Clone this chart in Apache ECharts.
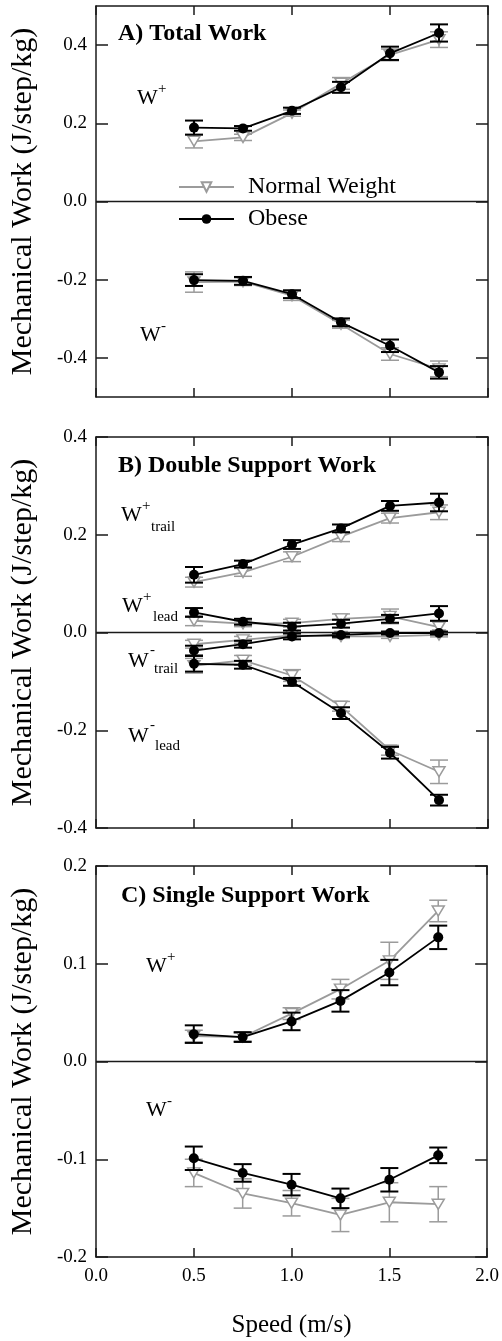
<!DOCTYPE html>
<html>
<head>
<meta charset="utf-8">
<script src="https://cdn.jsdelivr.net/npm/echarts@6/dist/echarts.min.js"></script>
<style>html,body{margin:0;padding:0;background:#fff}#c{width:502px;height:1341px}</style>
</head>
<body>
<div id="c"></div>
<script>
// ---------- data ----------
const speeds = [0.5, 0.75, 1.0, 1.25, 1.5, 1.75];
const xTickLabels = ['0.0', '0.5', '1.0', '1.5', '2.0'];

// A) Total work
const A_pos_normal = [0.154, 0.164, 0.226, 0.302, 0.375, 0.414];
const A_pos_normal_err = [0.017, 0.008, 0.008, 0.015, 0.015, 0.020];
const A_pos_obese = [0.189, 0.187, 0.232, 0.292, 0.379, 0.431];
const A_pos_obese_err = [0.018, 0.006, 0.008, 0.014, 0.017, 0.022];
const A_neg_normal = [-0.206, -0.205, -0.241, -0.314, -0.390, -0.428];
const A_neg_normal_err = [0.026, 0.010, 0.012, 0.010, 0.016, 0.020];
const A_neg_obese = [-0.201, -0.203, -0.237, -0.309, -0.369, -0.437];
const A_neg_obese_err = [0.015, 0.010, 0.010, 0.010, 0.016, 0.016];

// B) Double support work
const B_postrail_normal = [0.103, 0.123, 0.155, 0.196, 0.234, 0.246];
const B_postrail_normal_err = [0.010, 0.008, 0.010, 0.010, 0.010, 0.015];
const B_postrail_obese = [0.118, 0.140, 0.180, 0.213, 0.259, 0.266];
const B_postrail_obese_err = [0.016, 0.007, 0.009, 0.008, 0.010, 0.018];
const B_poslead_normal = [0.024, 0.018, 0.019, 0.028, 0.033, 0.011];
const B_poslead_normal_err = [0.010, 0.006, 0.008, 0.010, 0.015, 0.012];
const B_poslead_obese = [0.041, 0.022, 0.012, 0.018, 0.028, 0.039];
const B_poslead_obese_err = [0.009, 0.006, 0.008, 0.008, 0.008, 0.015];
const B_negtrail_normal = [-0.024, -0.015, -0.006, -0.008, -0.008, -0.005];
const B_negtrail_normal_err = [0.008, 0.007, 0.004, 0.004, 0.004, 0.004];
const B_negtrail_obese = [-0.037, -0.024, -0.008, -0.005, -0.001, -0.001];
const B_negtrail_obese_err = [0.010, 0.007, 0.006, 0.004, 0.003, 0.003];
const B_neglead_normal = [-0.068, -0.057, -0.088, -0.151, -0.241, -0.285];
const B_neglead_normal_err = [0.015, 0.010, 0.012, 0.010, 0.010, 0.024];
const B_neglead_obese = [-0.064, -0.066, -0.101, -0.165, -0.246, -0.343];
const B_neglead_obese_err = [0.016, 0.008, 0.008, 0.012, 0.012, 0.011];

// C) Single support work
const C_pos_normal = [0.026, 0.025, 0.049, 0.074, 0.103, 0.154];
const C_pos_normal_err = [0.006, 0.004, 0.006, 0.010, 0.019, 0.011];
const C_pos_obese = [0.028, 0.025, 0.041, 0.062, 0.091, 0.127];
const C_pos_obese_err = [0.009, 0.005, 0.009, 0.011, 0.013, 0.012];
const C_neg_normal = [-0.114, -0.135, -0.145, -0.157, -0.144, -0.146];
const C_neg_normal_err = [0.014, 0.015, 0.013, 0.017, 0.020, 0.018];
const C_neg_obese = [-0.099, -0.114, -0.126, -0.140, -0.121, -0.096];
const C_neg_obese_err = [0.012, 0.009, 0.011, 0.010, 0.012, 0.008];

const yTicksA = [-0.4, -0.2, 0, 0.2, 0.4];

// ---------- styling ----------
const FONT = 'Liberation Serif, Times New Roman, serif';
const GRAY = '#9b9b9b';
const BLACK = '#000000';
const AX = '#1a1a1a';

const grids = [
  {left: 96, top: 6, width: 392, height: 391},
  {left: 96, top: 437, width: 392, height: 391},
  {left: 96, top: 866, width: 392, height: 391}
];
const yRanges = [
  {min: -0.5, max: 0.5, custom: yTicksA},
  {min: -0.4, max: 0.4, interval: 0.2},
  {min: -0.2, max: 0.2, interval: 0.1}
];

const xAxes = [], yAxes = [];
grids.forEach((g, i) => {
  const isLast = i === grids.length - 1;
  const baseX = {
    gridIndex: i, type: 'value', min: 0, max: 2, interval: 0.5,
    axisLine: {show: true, onZero: false, lineStyle: {color: AX, width: 1.5}},
    axisTick: {show: true, inside: true, length: 9, lineStyle: {color: AX, width: 1.5}},
    splitLine: {show: false}
  };
  xAxes.push(Object.assign({}, baseX, {
    position: 'bottom',
    axisLabel: {show: isLast, margin: 10, fontFamily: FONT, fontSize: 19, color: '#000',
      formatter: v => xTickLabels[Math.round(v / 0.5)]},
    name: isLast ? 'Speed (m/s)' : '', nameLocation: 'middle', nameGap: 56,
    nameTextStyle: {fontFamily: FONT, fontSize: 25, color: '#000'}
  }));
  xAxes.push(Object.assign({}, baseX, {position: 'top', axisLabel: {show: false}}));
  const r = yRanges[i];
  const baseY = {
    gridIndex: i, type: 'value', min: r.min, max: r.max,
    axisLine: {show: true, onZero: false, lineStyle: {color: AX, width: 1.5}},
    splitLine: {show: false}
  };
  if (r.interval) baseY.interval = r.interval;
  const tick = {show: true, inside: true, length: 12, lineStyle: {color: AX, width: 1.5}};
  if (r.custom) tick.customValues = r.custom;
  const lab = {show: true, margin: 9, fontFamily: FONT, fontSize: 19, color: '#000',
    formatter: v => (Math.abs(v) < 1e-9 ? '0.0' : v.toFixed(1))};
  if (r.custom) lab.customValues = r.custom;
  yAxes.push(Object.assign({}, baseY, {
    position: 'left', axisTick: tick, axisLabel: lab,
    name: 'Mechanical Work (J/step/kg)', nameLocation: 'middle', nameGap: 58,
    nameTextStyle: {fontFamily: FONT, fontSize: 30, color: '#000'}
  }));
  yAxes.push(Object.assign({}, baseY, {
    position: 'right', axisTick: Object.assign({}, tick), axisLabel: {show: false}
  }));
});

function errSeries(grid, vals, errs, color, lw, z) {
  return {
    type: 'custom', name: 'err', xAxisIndex: grid * 2, yAxisIndex: grid * 2, z: z,
    silent: true,
    data: speeds.map((s, k) => [s, vals[k] - errs[k], vals[k] + errs[k]]),
    encode: {x: 0, y: [1, 2]},
    renderItem: function (params, api) {
      const x = api.value(0);
      const lo = api.coord([x, api.value(1)]);
      const hi = api.coord([x, api.value(2)]);
      const hw = 9;
      const st = {stroke: color, lineWidth: lw, fill: null};
      return {type: 'group', children: [
        {type: 'line', shape: {x1: hi[0], y1: hi[1], x2: lo[0], y2: lo[1]}, style: st},
        {type: 'line', shape: {x1: hi[0] - hw, y1: hi[1], x2: hi[0] + hw, y2: hi[1]}, style: st},
        {type: 'line', shape: {x1: lo[0] - hw, y1: lo[1], x2: lo[0] + hw, y2: lo[1]}, style: st}
      ]};
    }
  };
}
function normalLine(grid, vals) {
  return {
    type: 'line', name: 'Normal Weight', xAxisIndex: grid * 2, yAxisIndex: grid * 2, z: 3,
    data: speeds.map((s, k) => [s, vals[k]]),
    symbol: 'triangle', symbolRotate: 180, symbolSize: [12, 10],
    lineStyle: {color: GRAY, width: 1.8},
    itemStyle: {color: '#ffffff', borderColor: GRAY, borderWidth: 1.5},
    emphasis: {disabled: true}
  };
}
function obeseLine(grid, vals) {
  return {
    type: 'line', name: 'Obese', xAxisIndex: grid * 2, yAxisIndex: grid * 2, z: 5,
    data: speeds.map((s, k) => [s, vals[k]]),
    symbol: 'circle', symbolSize: 10,
    lineStyle: {color: BLACK, width: 1.8},
    itemStyle: {color: BLACK, borderColor: BLACK, borderWidth: 0},
    emphasis: {disabled: true}
  };
}
function zeroLine(grid) {
  return {
    type: 'line', name: 'zero', xAxisIndex: grid * 2, yAxisIndex: grid * 2, z: 1,
    data: [], silent: true,
    markLine: {silent: true, symbol: 'none', label: {show: false},
      lineStyle: {color: AX, width: 1.3, type: 'solid'}, data: [{yAxis: 0}],
      animation: false}
  };
}

const groups = [
  [0, A_pos_normal, A_pos_normal_err, A_pos_obese, A_pos_obese_err],
  [0, A_neg_normal, A_neg_normal_err, A_neg_obese, A_neg_obese_err],
  [1, B_postrail_normal, B_postrail_normal_err, B_postrail_obese, B_postrail_obese_err],
  [1, B_poslead_normal, B_poslead_normal_err, B_poslead_obese, B_poslead_obese_err],
  [1, B_negtrail_normal, B_negtrail_normal_err, B_negtrail_obese, B_negtrail_obese_err],
  [1, B_neglead_normal, B_neglead_normal_err, B_neglead_obese, B_neglead_obese_err],
  [2, C_pos_normal, C_pos_normal_err, C_pos_obese, C_pos_obese_err],
  [2, C_neg_normal, C_neg_normal_err, C_neg_obese, C_neg_obese_err]
];

const series = [zeroLine(0), zeroLine(1), zeroLine(2)];
groups.forEach(g => {
  series.push(errSeries(g[0], g[1], g[2], GRAY, 1.5, 2));
  series.push(normalLine(g[0], g[1]));
  series.push(errSeries(g[0], g[3], g[4], BLACK, 2, 4));
  series.push(obeseLine(g[0], g[3]));
});

// ---------- text annotations ----------
function txt(x, y, s, size, bold) {
  return {type: 'text', x: x, y: y, silent: true, z: 10,
    style: {text: s, fontFamily: FONT, fontSize: size, fontWeight: bold ? 'bold' : 'normal',
      fill: '#000', textAlign: 'left', textVerticalAlign: 'middle'}};
}
const WS = 22, SS = 15;
function wLabel(x, y, sup, sub) {
  const out = [txt(x, y, 'W', WS)];
  out.push(txt(x + 21, y - 9, sup, SS));
  if (sub) out.push(txt(x + 30, y + 11, sub, SS));
  return out;
}
const graphics = [
  txt(118, 34, 'A) Total Work', 24, true),
  txt(118, 466, 'B) Double Support Work', 24, true),
  txt(121, 896, 'C) Single Support Work', 24, true)
]
  .concat(wLabel(137, 98, '+'))
  .concat(wLabel(140, 335, '-'))
  .concat([txt(121, 515, 'W', WS), txt(142, 506, '+', SS), txt(151, 527, 'trail', SS)])
  .concat([txt(122, 606, 'W', WS), txt(143, 597, '+', SS), txt(153, 617, 'lead', SS)])
  .concat([txt(128, 661, 'W', WS), txt(150, 650, '-', SS), txt(154, 669, 'trail', SS)])
  .concat([txt(128, 736, 'W', WS), txt(150, 725, '-', SS), txt(155, 746, 'lead', SS)])
  .concat(wLabel(146, 966, '+'))
  .concat(wLabel(146, 1110, '-'));

const chart = echarts.init(document.getElementById('c'), null, {renderer: 'canvas'});
chart.setOption({
  animation: false,
  backgroundColor: '#ffffff',
  grid: grids,
  xAxis: xAxes,
  yAxis: yAxes,
  legend: {
    data: ['Normal Weight', 'Obese'], orient: 'vertical', left: 173, top: 170,
    itemWidth: 55, itemHeight: 12, itemGap: 8, selectedMode: false,
    textStyle: {fontFamily: FONT, fontSize: 24, color: '#000', padding: [0, 0, 0, 9]}
  },
  graphic: graphics,
  series: series
});
</script>
</body>
</html>
